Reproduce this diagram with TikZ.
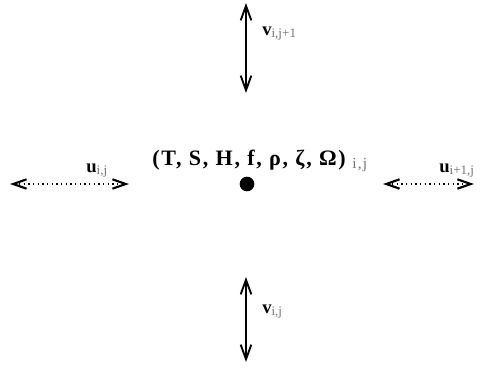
\documentclass[tikz,border=0pt]{standalone}
\usepackage{fontspec}
\setmainfont{Liberation Serif}
\usetikzlibrary{arrows.meta}
\newcommand{\sbs}[1]{\textsubscript{\mdseries\color{black!55}#1}}
\begin{document}
\begin{tikzpicture}[x=0.75pt,y=-0.75pt,
  vel/.style={line width=1pt,{Straight Barb[length=11pt,width=8pt,line width=1.4pt]}-{Straight Barb[length=11pt,width=8pt,line width=1.4pt]}},
  hvel/.style={line width=1pt,dash pattern=on 1pt off 2.5pt,{Straight Barb[length=10pt,width=7pt,line width=1.6pt]}-{Straight Barb[length=10pt,width=7pt,line width=1.6pt]}},
  lab/.style={font=\fontsize{14}{16}\selectfont\bfseries,inner sep=0pt,anchor=base west},
  dotnode/.style={circle,fill=black,inner sep=0pt,minimum size=11pt}]
\path[use as bounding box] (0,0) rectangle (480,368);
% top v
\coordinate (t1) at (246,3);
\coordinate (t2) at (246,93);
\draw[vel] (t1) -- (t2);
\node[lab] (vt) at (262,35) {v\sbs{i,j+1}};
% bottom v
\coordinate (b1) at (246,277);
\coordinate (b2) at (246,362);
\draw[vel] (b1) -- (b2);
\node[lab] (vb) at (262,313) {v\sbs{i,j}};
% left u
\coordinate (l1) at (10,184);
\coordinate (l2) at (129,184);
\draw[hvel] (l1) -- (l2);
\node[lab] (ul) at (86,172) {u\sbs{i,j}};
% right u
\coordinate (r1) at (383,184);
\coordinate (r2) at (474,184);
\draw[hvel] (r1) -- (r2);
\node[lab] (ur) at (439,172) {u\sbs{i+1,j}};
% center
\node[dotnode] (c) at (247,184) {};
\node[lab,font=\fontsize{16.5}{18}\selectfont\bfseries\addfontfeature{LetterSpace=8}] (txt) at (152,165) {(T, S, H, f, ρ, ζ, Ω)\hspace{0.3em}\sbs{i,j}};
\end{tikzpicture}
\end{document}
